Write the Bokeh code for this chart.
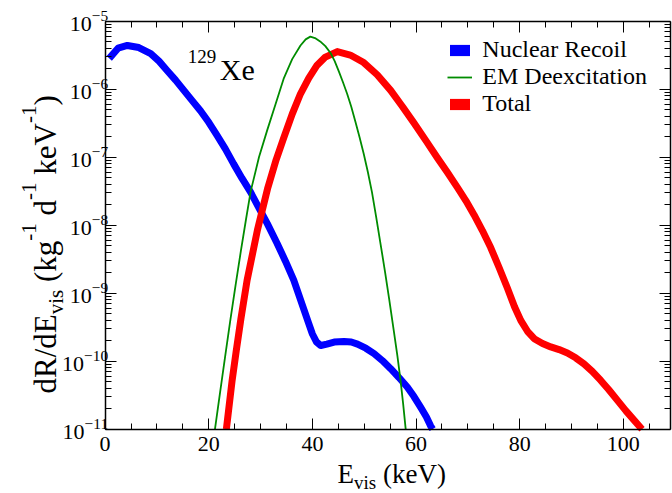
import math
from bokeh.plotting import figure
from bokeh.models import (Range1d, LinearAxis, LogAxis, FixedTicker, SingleIntervalTicker,
                          LogTickFormatter, CustomJSTickFormatter, Legend, LegendItem, Label)
from bokeh.embed import file_html
from bokeh.resources import INLINE

# ---------------- data ----------------
E_nr = [0.8, 2.5, 4.3, 6.5, 8.8, 10.4, 12.0, 13.6, 15.2, 16.8, 18.4, 20.0, 21.6, 23.2, 24.8,
        26.4, 28.1, 29.7, 31.3, 33.2, 34.8, 36.4, 37.5, 38.4, 39.3, 40.0, 40.8, 41.6, 42.8,
        44.2, 46.1, 47.5, 48.7, 50.3, 51.9, 53.5, 55.1, 56.7, 58.3, 59.6, 60.9, 62.0, 62.8, 63.2]
rate_nr = [2.82e-6, 3.98e-6, 4.37e-6, 4.07e-6, 3.31e-6, 2.57e-6, 1.86e-6, 1.35e-6, 9.55e-7,
           6.76e-7, 4.79e-7, 3.24e-7, 2.09e-7, 1.32e-7, 7.94e-8, 4.90e-8, 3.02e-8, 1.78e-8,
           1.05e-8, 5.37e-9, 2.95e-9, 1.55e-9, 8.91e-10, 5.62e-10, 3.55e-10, 2.51e-10,
           1.91e-10, 1.70e-10, 1.78e-10, 1.91e-10, 1.95e-10, 1.91e-10, 1.78e-10, 1.55e-10,
           1.29e-10, 1.02e-10, 7.76e-11, 5.75e-11, 4.17e-11, 3.02e-11, 2.09e-11, 1.51e-11,
           1.12e-11, 1.0e-11]

E_em = [21.2, 22.2, 23.2, 24.2, 25.2, 26.2, 27.2, 28.1, 29.7, 31.3, 32.9, 34.5, 36.1, 37.7,
        38.7, 39.6, 40.5, 41.5, 42.5, 43.5, 44.3, 45.1, 45.9, 46.7, 47.5, 48.3, 49.1, 49.9,
        50.7, 51.5, 52.3, 53.2, 54.0, 54.8, 55.7, 56.4, 57.0, 57.5, 58.0]
rate_em = [1.0e-11, 3.55e-11, 1.23e-10, 4.17e-10, 1.35e-9, 4.17e-9, 1.23e-8, 3.16e-8, 1.0e-7,
           2.51e-7, 6.03e-7, 1.45e-6, 2.75e-6, 4.37e-6, 5.37e-6, 5.89e-6, 5.62e-6, 5.01e-6,
           4.27e-6, 3.39e-6, 2.57e-6, 1.82e-6, 1.26e-6, 8.51e-7, 5.50e-7, 3.31e-7, 1.95e-7,
           1.12e-7, 6.03e-8, 3.02e-8, 1.32e-8, 5.01e-9, 2.09e-9, 8.32e-10, 2.82e-10,
           1.20e-10, 5.25e-11, 2.40e-11, 1.0e-11]

E_tot = [23.4, 24.5, 25.3, 26.2, 27.4, 29.4, 31.4, 33.0, 34.5, 36.1, 37.7, 39.3, 40.9, 42.5,
         44.8, 47.3, 49.9, 52.5, 55.1, 57.4, 59.6, 62.0, 64.1, 66.0, 68.0, 69.6, 71.2, 72.8,
         74.4, 76.0, 77.6, 79.0, 80.2, 81.5, 82.8, 84.4, 86.0, 87.6, 89.2, 90.8, 92.4, 94.0,
         95.6, 97.2, 98.9, 100.5, 102.1, 103.6]
rate_tot = [1.0e-11, 5.13e-11, 1.41e-10, 4.17e-10, 1.55e-9, 8.51e-9, 3.55e-8, 9.12e-8, 1.95e-7,
            4.27e-7, 8.51e-7, 1.45e-6, 2.24e-6, 2.95e-6, 3.55e-6, 3.16e-6, 2.45e-6, 1.62e-6,
            9.55e-7, 5.50e-7, 3.16e-7, 1.70e-7, 9.77e-8, 6.03e-8, 3.55e-8, 2.29e-8, 1.41e-8,
            8.32e-9, 4.68e-9, 2.40e-9, 1.20e-9, 6.31e-10, 3.98e-10, 2.75e-10, 2.14e-10,
            1.82e-10, 1.62e-10, 1.48e-10, 1.32e-10, 1.12e-10, 9.12e-11, 7.08e-11, 5.25e-11,
            3.80e-11, 2.63e-11, 1.86e-11, 1.35e-11, 1.0e-11]

series_names = ["Nuclear Recoil", "EM Deexcitation", "Total"]
x_limits = [0, 109]
x_major_step = 20
y_decades = [1e-11, 1e-10, 1e-9, 1e-8, 1e-7, 1e-6, 1e-5]

# ---------------- layout geometry (pixels) ----------------
PX_W, PX_H = 672, 493
BOX_L, BOX_R, BOX_T, BOX_B = 104.6, 669.5, 20.5, 428.7
kx = (BOX_R - BOX_L) / (x_limits[1] - x_limits[0])
lg0, lg1 = math.log10(y_decades[0]), math.log10(y_decades[-1])
ky = (BOX_B - BOX_T) / (lg1 - lg0)
xr = Range1d(x_limits[0] - BOX_L / kx, x_limits[1] + (PX_W - BOX_R) / kx)
yr = Range1d(10 ** (lg0 - (PX_H - BOX_B) / ky), 10 ** (lg1 + BOX_T / ky))

FONT = "Liberation Serif"
BLUE, GREEN, RED = "#0000ff", "#008c00", "#ff0000"

p = figure(width=PX_W, height=PX_H, x_range=xr, y_range=yr, y_axis_type="log",
           x_axis_location=None, y_axis_location=None,
           output_backend="svg", toolbar_location=None,
           min_border_left=0, min_border_right=0, min_border_top=0, min_border_bottom=0)
p.grid.visible = False
p.outline_line_color = None
p.background_fill_color = "white"
p.border_fill_color = "white"

minor_y = [m * d for d in y_decades[:-1] for m in range(2, 10)]
yt = FixedTicker(ticks=y_decades, minor_ticks=minor_y)
xt = SingleIntervalTicker(interval=x_major_step, num_minor_ticks=4)
ybounds = (y_decades[0], y_decades[-1])
xbounds = (x_limits[0], x_limits[1])


def style(ax, labels=True):
    ax.major_tick_in = 11
    ax.major_tick_out = 0
    ax.minor_tick_in = 6
    ax.minor_tick_out = 0
    ax.axis_line_width = 1.5
    ax.axis_line_color = "black"
    ax.major_tick_line_width = 1
    ax.minor_tick_line_width = 1
    ax.major_tick_line_color = "black"
    ax.minor_tick_line_color = "black"
    ax.major_label_text_font = FONT
    ax.major_label_text_font_size = "22px"
    ax.major_label_text_color = "black"
    if not labels:
        ax.formatter = CustomJSTickFormatter(code="return ''")
        ax.major_label_standoff = 0


bottom = LinearAxis(ticker=xt, bounds=xbounds, fixed_location=y_decades[0])
style(bottom)
bottom.major_label_standoff = 8
p.add_layout(bottom, "below")

top = LinearAxis(ticker=xt, bounds=xbounds, fixed_location=y_decades[-1])
style(top, labels=False)
p.add_layout(top, "above")

left = LogAxis(ticker=yt, formatter=LogTickFormatter(), bounds=ybounds, fixed_location=x_limits[0])
style(left)
left.major_label_standoff = -3
p.add_layout(left, "left")

right = LogAxis(ticker=yt, bounds=ybounds, fixed_location=x_limits[1])
style(right, labels=False)
p.add_layout(right, "right")

# ---------------- curves ----------------
# zero-height areas along the curves: they give the legend its filled swatches
sw_nr = p.varea(x=E_nr, y1=rate_nr, y2=rate_nr, fill_color=BLUE)
sw_tot = p.varea(x=E_tot, y1=rate_tot, y2=rate_tot, fill_color=RED)
r_nr = p.line(E_nr, rate_nr, line_color=BLUE, line_width=7, line_join="round")
r_tot = p.line(E_tot, rate_tot, line_color=RED, line_width=7, line_join="round")
r_em = p.line(E_em, rate_em, line_color=GREEN, line_width=1.8, line_join="round")

leg = Legend(items=[LegendItem(label=series_names[0], renderers=[sw_nr]),
                    LegendItem(label=series_names[1], renderers=[r_em]),
                    LegendItem(label=series_names[2], renderers=[sw_tot])],
             location=(447.3, PX_H - 117.0),
             orientation="vertical",
             glyph_width=25, glyph_height=14, label_standoff=10, spacing=-7,
             padding=0, margin=0, label_text_font=FONT, label_text_font_size="24px",
             label_text_color="black",
             border_line_color=None, background_fill_alpha=0)
p.add_layout(leg)

# ---------------- text annotations ----------------
W = {' ': 250, '(': 333, ')': 333, '/': 278, '-': 333, '1': 500, '2': 500, '9': 500,
     'E': 611, 'R': 667, 'V': 722, 'X': 722, 'd': 500, 'k': 500, 'g': 500, 'e': 444,
     'v': 500, 'i': 278, 's': 389}
MID = 0.3375  # distance (in em) from the alphabetic baseline to the middle of the em box


def adv(t, size):
    return sum(W[c] for c in t) * size / 1000.0


def lab(text, size, dx, dy, angle=0.0):
    # dx, dy: pixel offsets of the text baseline start from the lower-left corner of the box
    if angle == 0.0:
        dy = dy + MID * size
    else:
        dx = dx - MID * size
    p.add_layout(Label(x=x_limits[0], y=y_decades[0], x_offset=dx, y_offset=dy, text=text,
                       text_font=FONT, text_font_size=f"{size}px", text_color="black",
                       text_align="left", text_baseline="alphabetic", angle=angle))


# isotope label
lab("129", 19, 82.7, BOX_B - 62.0)
lab("Xe", 30, 114.7, BOX_B - 79.3)

# x axis label  E_vis (keV)
FX, fx = 27, 19
ux = 232.4
lab("E", FX, ux, BOX_B - 483.0); ux += adv("E", FX)
lab("vis", fx, ux, BOX_B - 488.5); ux += adv("vis", fx)
ux += adv(" ", FX)
lab("(keV)", FX, ux, BOX_B - 483.0)

# y axis label  dR/dE_vis (kg^-1 d^-1 keV^-1)
FY, fy = 31, 21
base = 55.0 - BOX_L
uy = BOX_B - 393.0
pieces = [("dR/dE", "n"), ("vis", "b"), (" (kg", "n"), ("-1", "p"), (" d", "n"),
          ("-1", "p"), (" keV", "n"), ("-1", "p"), (")", "n")]
for t, kind in pieces:
    size = FY if kind == "n" else fy
    lead = len(t) - len(t.lstrip(" "))
    uy += adv(" " * lead, size)
    t = t.lstrip(" ")
    dx = base + (8 if kind == "b" else (-19 if kind == "p" else 0))
    lab(t, size, dx, uy, math.pi / 2)
    uy += adv(t, size)

open("out.html", "w").write(file_html(p, INLINE))
